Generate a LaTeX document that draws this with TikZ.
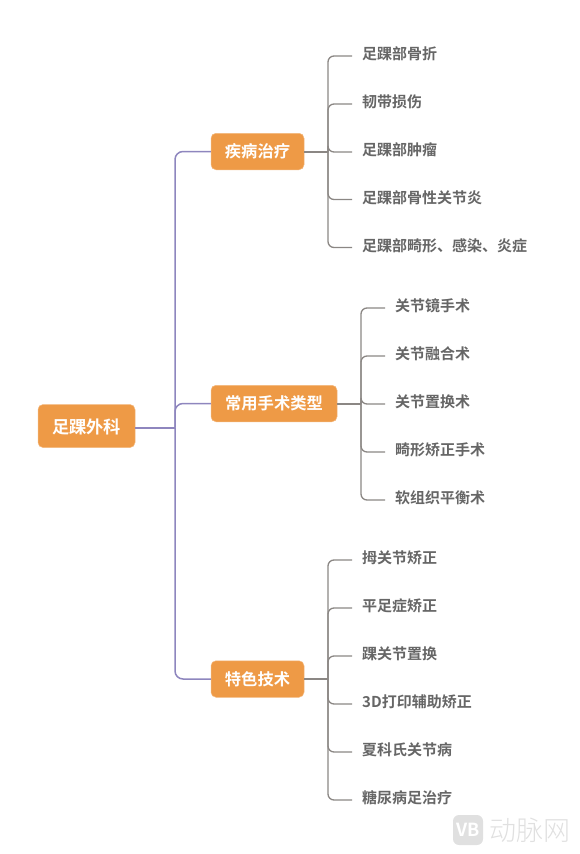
\documentclass[tikz,border=0pt]{standalone}
\usepackage{fontspec}
\setmainfont{Noto Sans CJK SC}[BoldFont={* Bold}]
\newfontfamily\cjkb{Noto Sans CJK SC Bold}
\newfontfamily\wmfont{Noto Sans CJK SC Light}
\definecolor{boxor}{HTML}{EE9A46}
\definecolor{purp}{HTML}{8E86BE}
\definecolor{grayl}{HTML}{8B8784}
\definecolor{leaft}{HTML}{666666}
\definecolor{wm}{HTML}{E0E0E0}
\tikzset{
 mainbox/.style={fill=boxor,rounded corners=5pt,text=white,font=\cjkb\fontsize{16.3}{17}\selectfont,minimum height=36.5pt,inner xsep=0pt,inner ysep=0pt,draw=boxor!70!white,line width=.5pt},
 leaf/.style={anchor=west,text=leaft,font=\cjkb\fontsize{15}{16}\selectfont,inner xsep=10pt,inner ysep=0pt,minimum height=10pt},
 pline/.style={draw=purp,line width=1.5pt,rounded corners=8pt},
 gline/.style={draw=grayl,line width=1.3pt,rounded corners=6pt},
}
\newcommand{\lft}[1]{\raisebox{-3.5pt}[0pt][0pt]{#1}}
\begin{document}
\begin{tikzpicture}[x=1pt,y=-1pt]
\useasboundingbox (0,0) rectangle (579,854);
\node[mainbox,minimum width=97pt,minimum height=43pt,font=\cjkb\fontsize{17.2}{18}\selectfont] (root) at (86.5,426) {\raisebox{-7.4pt}[0pt][0pt]{足踝外科}};
\node[mainbox,minimum width=93pt] (a) at (257.5,151.5) {疾病治疗};
\node[mainbox,minimum width=126pt] (b) at (274,403.5) {常用手术类型};
\node[mainbox,minimum width=93pt] (c) at (257.5,679) {特色技术};
\coordinate (jr) at (175,427.5);
\coordinate (ja) at (328,152);
\coordinate (jb) at (361,404);
\coordinate (jc) at (328,679);
\draw[pline,line width=2pt] (root.east |- jr) -- (jr);
\draw[pline] (jr) |- (a.west);
\draw[pline] (jr) |- (b.west);
\draw[pline] (jr) |- (c.west);
\draw[gline,line width=1.7pt] (a.east |- ja) -- (ja);
\draw[gline,line width=1.7pt] (b.east |- jb) -- (jb);
\draw[gline,line width=1.7pt] (c.east |- jc) -- (jc);
\foreach \n/\y/\t in {a1/56/足踝部骨折,a2/104/韧带损伤,a3/152/足踝部肿瘤,a4/199.5/足踝部骨性关节炎,a5/247.5/足踝部畸形、感染、炎症}{
 \node[leaf] (\n) at (352,\y) {\lft{\t}};
 \draw[gline] (ja) |- (\n.west);
}
\foreach \n/\y/\t in {b1/308/关节镜手术,b2/356/关节融合术,b3/404/关节置换术,b4/452/畸形矫正手术,b5/500/软组织平衡术}{
 \node[leaf] (\n) at (385,\y) {\lft{\t}};
 \draw[gline] (jb) |- (\n.west);
}
\foreach \n/\y/\t in {c1/560/拇关节矫正,c2/608/平足症矫正,c3/656/踝关节置换,c4/704/3D打印辅助矫正,c5/752/夏科氏关节病,c6/800/糖尿病足治疗}{
 \node[leaf] (\n) at (352,\y) {\lft{\t}};
 \draw[gline] (jc) |- (\n.west);
}
\fill[wm,rounded corners=6pt] (453,815) rectangle (483,845);
\node[text=white,font=\cjkb\fontsize{18}{18}\selectfont,inner sep=0pt] (wl) at (468,830) {VB};
\node[text=wm,font=\wmfont\fontsize{27}{27}\selectfont,anchor=west,inner sep=0pt] (wt) at (489,830) {动脉网};
\end{tikzpicture}
\end{document}
